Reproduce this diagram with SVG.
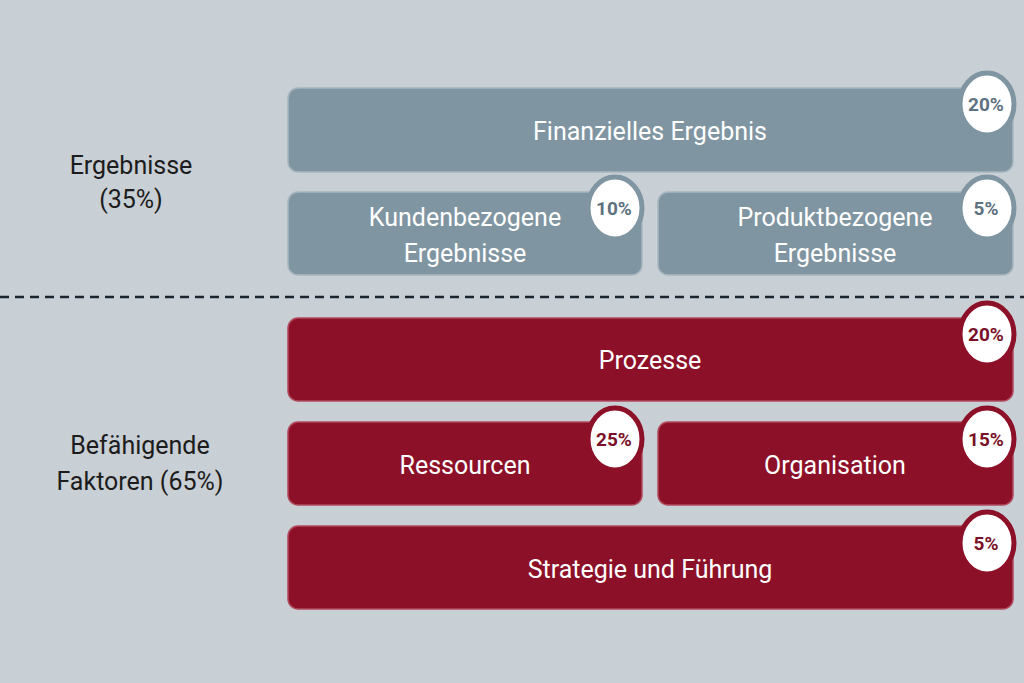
<svg xmlns="http://www.w3.org/2000/svg" width="1024" height="683" viewBox="0 0 1024 683">
<style>
.lbl{font-family:Roboto,"Liberation Sans",sans-serif;font-size:25px;fill:#ffffff;text-anchor:middle}
.side{font-family:Roboto,"Liberation Sans",sans-serif;font-size:25px;fill:#1c1c1c;text-anchor:middle}
.g rect{fill:#7f95a1;stroke:#a7b6bf;stroke-width:1.5}
.r rect{fill:#8c1028;stroke:#b04a5c;stroke-width:1.5}
.g ellipse{fill:#ffffff;stroke:#7f95a1;stroke-width:5}
.r ellipse{fill:#ffffff;stroke:#8c1028;stroke-width:5}
.pct{font-family:Roboto,"Liberation Sans",sans-serif;font-size:19px;font-weight:bold;text-anchor:middle}
.g .pct{fill:#5e7180}
.r .pct{fill:#7a1027}
</style>
<rect width="1024" height="683" fill="#c8cfd5"/>
<g id="labels">
<text class="side" x="131" y="174">Ergebnisse</text>
<text class="side" x="131" y="208">(35%)</text>
<text class="side" x="140" y="454">Befähigende</text>
<text class="side" x="140" y="490">Faktoren (65%)</text>
</g>
<g id="connectors">
<line x1="0" y1="297" x2="1024" y2="297" stroke="#1a2530" stroke-width="2.5" stroke-dasharray="9,6"/>
</g>
<g id="finanziell" class="g">
<rect x="288" y="88" width="725" height="84" rx="10"/>
<text class="lbl" x="650" y="140">Finanzielles Ergebnis</text>
<ellipse cx="987" cy="104" rx="27" ry="31"/>
<text class="pct" x="986" y="111">20%</text>
</g>
<g id="kunden" class="g">
<rect x="288" y="192" width="354" height="83" rx="10"/>
<text class="lbl" x="465" y="226">Kundenbezogene</text>
<text class="lbl" x="465" y="262">Ergebnisse</text>
<ellipse cx="615" cy="208" rx="27" ry="31"/>
<text class="pct" x="614" y="215">10%</text>
</g>
<g id="produkt" class="g">
<rect x="658" y="192" width="355" height="83" rx="10"/>
<text class="lbl" x="835" y="226">Produktbezogene</text>
<text class="lbl" x="835" y="262">Ergebnisse</text>
<ellipse cx="987" cy="208" rx="27" ry="31"/>
<text class="pct" x="986" y="215">5%</text>
</g>
<g id="prozesse" class="r">
<rect x="288" y="318" width="725" height="83" rx="10"/>
<text class="lbl" x="650" y="369">Prozesse</text>
<ellipse cx="987" cy="334" rx="27" ry="31"/>
<text class="pct" x="986" y="341">20%</text>
</g>
<g id="ressourcen" class="r">
<rect x="288" y="422" width="354" height="83" rx="10"/>
<text class="lbl" x="465" y="474">Ressourcen</text>
<ellipse cx="615" cy="439" rx="27" ry="31"/>
<text class="pct" x="614" y="446">25%</text>
</g>
<g id="organisation" class="r">
<rect x="658" y="422" width="355" height="83" rx="10"/>
<text class="lbl" x="835" y="474">Organisation</text>
<ellipse cx="987" cy="439" rx="27" ry="31"/>
<text class="pct" x="986" y="446">15%</text>
</g>
<g id="strategie" class="r">
<rect x="288" y="526" width="725" height="83" rx="10"/>
<text class="lbl" x="650" y="578">Strategie und Führung</text>
<ellipse cx="987" cy="543" rx="27" ry="31"/>
<text class="pct" x="986" y="550">5%</text>
</g>
</svg>
